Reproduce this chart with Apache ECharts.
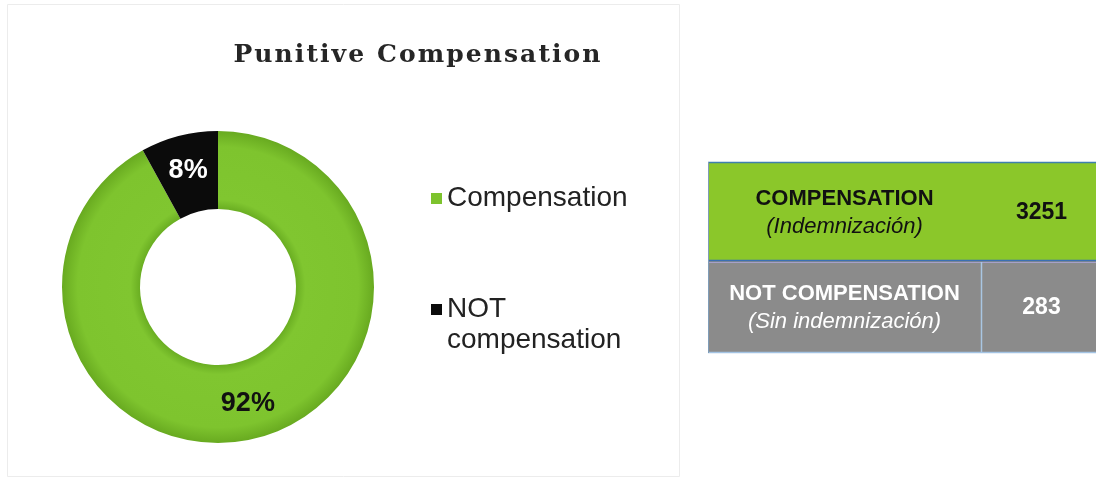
<!DOCTYPE html>
<html>
<head>
<meta charset="utf-8">
<script src="https://cdn.jsdelivr.net/npm/echarts@6/dist/echarts.min.js"></script>
<style>
  html, body { margin: 0; padding: 0; background: #ffffff; }
  #chart { width: 1096px; height: 479px; }
</style>
</head>
<body>
<div id="chart"></div>
<script>
// Chart content
const titleText = 'Punitive Compensation';
const categories = ['Compensation', 'NOT compensation'];
const values = [3251, 283];
const tableHeads = ['COMPENSATION', 'NOT COMPENSATION'];
const tableSubs = ['(Indemnización)', '(Sin indemnización)'];

// Palette
const GREEN = '#7dc32d';
const BLACK = '#0b0b0b';
const TABLE_GREEN = '#8bc72a';
const TABLE_GRAY = '#8b8b8b';

const pieCenter = [218, 287];
const pieRadius = [78, 156];

// Ring shading: darker rims at the inner and outer edge
const ringGreen = {
  type: 'radial', x: pieCenter[0], y: pieCenter[1], r: pieRadius[1], global: true,
  colorStops: [
    { offset: 0.50, color: '#6aae22' },
    { offset: 0.56, color: '#80c630' },
    { offset: 0.90, color: '#7ec42e' },
    { offset: 1.00, color: '#68aa20' }
  ]
};

// Letter-spaced title: glyphs spread evenly across the given width
function spacedText(text, font, width, cx, cy, color) {
  const ctx = document.createElement('canvas').getContext('2d');
  ctx.font = font.fontWeight + ' ' + font.fontSize + 'px ' + font.fontFamily;
  const chars = Array.from(text);
  const widths = chars.map(ch => ctx.measureText(ch).width);
  const natural = widths.reduce((a, b) => a + b, 0);
  const spacing = Math.max(0, (width - natural) / (chars.length - 1));
  let x = cx - (natural + spacing * (chars.length - 1)) / 2;
  const children = chars.map((ch, i) => {
    const el = {
      type: 'text', x: x, y: cy, silent: true,
      style: Object.assign({ text: ch, fill: color, verticalAlign: 'middle', align: 'left' }, font)
    };
    x += widths[i] + spacing;
    return el;
  });
  return { type: 'group', children: children };
}

// Summary table on the right
const tableX = 708, tableRight = 1102, colSplit = 981;
const rowTops = [162, 260], rowHeights = [98, 92];
const rowFills = [TABLE_GREEN, TABLE_GRAY];
const rowText = ['#111111', '#ffffff'];
const labelCx = (tableX + colSplit) / 2;
const valueCx = (colSplit + tableRight) / 2;

const tableGraphics = [];
rowTops.forEach((top, i) => {
  tableGraphics.push({
    type: 'rect', silent: true,
    shape: { x: tableX, y: top, width: tableRight - tableX, height: rowHeights[i] },
    style: { fill: rowFills[i] }
  });
  const mid = top + rowHeights[i] / 2;
  tableGraphics.push({
    type: 'text', silent: true, x: labelCx, y: mid - 12,
    style: { text: tableHeads[i], fontFamily: 'Liberation Sans', fontWeight: 'bold', fontSize: 22, fill: rowText[i], align: 'center', verticalAlign: 'middle' }
  });
  tableGraphics.push({
    type: 'text', silent: true, x: labelCx, y: mid + 16,
    style: { text: tableSubs[i], fontFamily: 'Liberation Sans', fontStyle: 'italic', fontSize: 22, fill: rowText[i], align: 'center', verticalAlign: 'middle' }
  });
  tableGraphics.push({
    type: 'text', silent: true, x: valueCx, y: mid + 2,
    style: { text: String(values[i]), fontFamily: 'Liberation Sans', fontWeight: 'bold', fontSize: 23, fill: rowText[i], align: 'center', verticalAlign: 'middle' }
  });
});
// cell borders
tableGraphics.push(
  { type: 'line', silent: true, shape: { x1: tableX, y1: 162.5, x2: tableRight, y2: 162.5 }, style: { stroke: '#3e7fae', lineWidth: 1.5 } },
  { type: 'line', silent: true, shape: { x1: tableX, y1: 260.5, x2: tableRight, y2: 260.5 }, style: { stroke: '#3a6fb3', lineWidth: 1.5 } },
  { type: 'line', silent: true, shape: { x1: tableX, y1: 262.5, x2: tableRight, y2: 262.5 }, style: { stroke: '#a7a0c8', lineWidth: 1 } },
  { type: 'line', silent: true, shape: { x1: colSplit + 0.5, y1: 262, x2: colSplit + 0.5, y2: 352 }, style: { stroke: '#a9c6e2', lineWidth: 1.5 } },
  { type: 'line', silent: true, shape: { x1: tableX, y1: 352.5, x2: tableRight, y2: 352.5 }, style: { stroke: '#a3c3e3', lineWidth: 1.5 } },
  { type: 'line', silent: true, shape: { x1: tableX + 0.5, y1: 162, x2: tableX + 0.5, y2: 353 }, style: { stroke: '#7f9cb8', lineWidth: 1 } }
);

const chart = echarts.init(document.getElementById('chart'), null, { renderer: 'canvas' });

const legendText = {
  fontFamily: 'Liberation Sans',
  fontSize: 28,
  lineHeight: 31,
  color: '#222222'
};

chart.setOption({
  animation: false,
  backgroundColor: '#ffffff',
  legend: [
    {
      data: [{ name: categories[0], itemStyle: { color: GREEN, borderWidth: 0 } }],
      orient: 'vertical', left: 431, top: 183, padding: 0,
      itemWidth: 11, itemHeight: 11, icon: 'rect',
      textStyle: legendText
    },
    {
      data: [{ name: categories[1], itemStyle: { color: BLACK, borderWidth: 0 } }],
      orient: 'vertical', left: 431, top: 263, padding: 0,
      itemWidth: 11, itemHeight: 11, icon: 'rect',
      // blank first line keeps the marker level with "NOT"
      formatter: name => '\n' + name.replace(' ', '\n'),
      textStyle: legendText
    }
  ],
  graphic: [
    {
      type: 'rect', silent: true,
      shape: { x: 7.5, y: 4.5, width: 672, height: 472 },
      style: { fill: 'none', stroke: '#ececec', lineWidth: 1 }
    },
    spacedText(titleText, { fontFamily: 'DejaVu Serif', fontWeight: 'bold', fontSize: 25 }, 367, 417, 55, '#262626')
  ].concat(tableGraphics),
  series: [
    {
      type: 'pie',
      center: pieCenter,
      radius: pieRadius,
      startAngle: 90,
      clockwise: true,
      avoidLabelOverlap: false,
      emphasis: { scale: false },
      label: {
        show: true,
        position: 'inside',
        fontFamily: 'Liberation Sans',
        fontWeight: 'bold',
        fontSize: 27,
        formatter: p => Math.round(p.percent) + '%'
      },
      labelLine: { show: false },
      itemStyle: { borderWidth: 0 },
      data: categories.map((name, i) => ({
        name: name,
        value: values[i],
        itemStyle: { color: i === 0 ? ringGreen : BLACK },
        label: { color: i === 0 ? '#111111' : '#ffffff' }
      }))
    }
  ]
});
</script>
</body>
</html>
